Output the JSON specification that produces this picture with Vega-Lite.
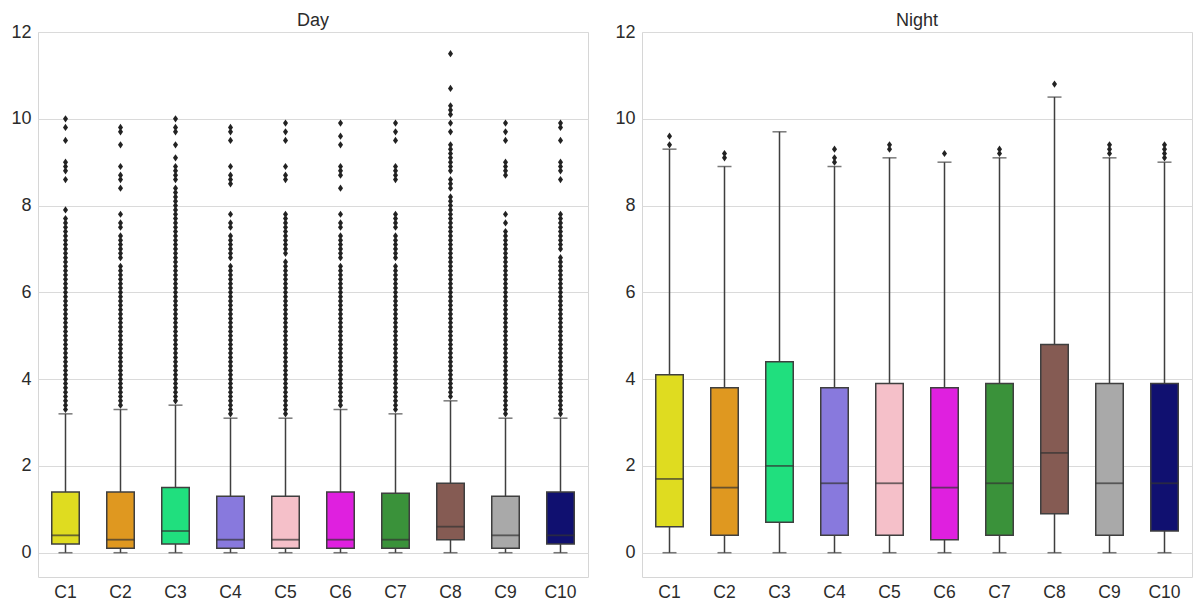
{
  "$schema": "https://vega.github.io/schema/vega-lite/v6.json",
  "background": "white",
  "padding": {"left": 10, "top": 11, "right": 2, "bottom": 0},
  "spacing": 25,
  "config": {
    "view": {"stroke": "#d6d6d6", "strokeWidth": 1},
    "font": "Liberation Sans",
    "axis": {"labelFont": "Liberation Sans", "labelFontSize": 18, "labelColor": "#2b2b2b", "ticks": false, "domain": false, "gridColor": "#dadada", "gridWidth": 1, "title": null},
    "title": {"font": "Liberation Sans", "fontSize": 18, "fontWeight": "normal", "color": "#2b2b2b", "offset": -7}
  },
  "datasets": {
    "dayBox": [
      {"c":"C1","lo":0,"q1":0.2,"med":0.4,"q3":1.4,"hi":3.2},
      {"c":"C2","lo":0,"q1":0.1,"med":0.3,"q3":1.4,"hi":3.3},
      {"c":"C3","lo":0,"q1":0.2,"med":0.5,"q3":1.5,"hi":3.4},
      {"c":"C4","lo":0,"q1":0.1,"med":0.3,"q3":1.3,"hi":3.1},
      {"c":"C5","lo":0,"q1":0.1,"med":0.3,"q3":1.3,"hi":3.1},
      {"c":"C6","lo":0,"q1":0.1,"med":0.3,"q3":1.4,"hi":3.3},
      {"c":"C7","lo":0,"q1":0.1,"med":0.3,"q3":1.37,"hi":3.2},
      {"c":"C8","lo":0,"q1":0.3,"med":0.6,"q3":1.6,"hi":3.5},
      {"c":"C9","lo":0,"q1":0.1,"med":0.4,"q3":1.3,"hi":3.1},
      {"c":"C10","lo":0,"q1":0.2,"med":0.4,"q3":1.4,"hi":3.1}
    ],
    "nightBox": [
      {"c":"C1","lo":0,"q1":0.6,"med":1.7,"q3":4.1,"hi":9.3},
      {"c":"C2","lo":0,"q1":0.4,"med":1.5,"q3":3.8,"hi":8.9},
      {"c":"C3","lo":0,"q1":0.7,"med":2.0,"q3":4.4,"hi":9.7},
      {"c":"C4","lo":0,"q1":0.4,"med":1.6,"q3":3.8,"hi":8.9},
      {"c":"C5","lo":0,"q1":0.4,"med":1.6,"q3":3.9,"hi":9.1},
      {"c":"C6","lo":0,"q1":0.3,"med":1.5,"q3":3.8,"hi":9.0},
      {"c":"C7","lo":0,"q1":0.4,"med":1.6,"q3":3.9,"hi":9.1},
      {"c":"C8","lo":0,"q1":0.9,"med":2.3,"q3":4.8,"hi":10.5},
      {"c":"C9","lo":0,"q1":0.4,"med":1.6,"q3":3.9,"hi":9.1},
      {"c":"C10","lo":0,"q1":0.5,"med":1.6,"q3":3.9,"hi":9.0}
    ],
    "nightOut": [
      {"c":"C1","v":9.6},{"c":"C1","v":9.4},
      {"c":"C2","v":9.2},{"c":"C2","v":9.1},
      {"c":"C4","v":9.3},{"c":"C4","v":9.1},{"c":"C4","v":9.0},
      {"c":"C5","v":9.4},{"c":"C5","v":9.3},
      {"c":"C6","v":9.2},
      {"c":"C7","v":9.3},{"c":"C7","v":9.2},
      {"c":"C8","v":10.8},
      {"c":"C9","v":9.4},{"c":"C9","v":9.3},{"c":"C9","v":9.2},
      {"c":"C10","v":9.4},{"c":"C10","v":9.3},{"c":"C10","v":9.2},{"c":"C10","v":9.1}
    ],
    "dayOut": [
      {"c":"C1","v":10},{"c":"C1","v":9.8},{"c":"C1","v":9.5},{"c":"C1","v":9},{"c":"C1","v":8.9},{"c":"C1","v":8.8},{"c":"C1","v":8.6},{"c":"C1","v":7.9},
      {"c":"C1","v":7.7},{"c":"C1","v":7.6},{"c":"C1","v":7.5},{"c":"C1","v":7.4},{"c":"C1","v":7.3},{"c":"C1","v":7.2},{"c":"C1","v":7.1},{"c":"C1","v":7.0},
      {"c":"C1","v":6.9},{"c":"C1","v":6.8},{"c":"C1","v":6.7},{"c":"C1","v":6.6},{"c":"C1","v":6.5},{"c":"C1","v":6.4},{"c":"C1","v":6.3},{"c":"C1","v":6.2},{"c":"C1","v":6.1},{"c":"C1","v":6.0},
      {"c":"C1","v":5.9},{"c":"C1","v":5.8},{"c":"C1","v":5.7},{"c":"C1","v":5.6},{"c":"C1","v":5.5},{"c":"C1","v":5.4},{"c":"C1","v":5.3},{"c":"C1","v":5.2},{"c":"C1","v":5.1},{"c":"C1","v":5.0},
      {"c":"C1","v":4.9},{"c":"C1","v":4.8},{"c":"C1","v":4.7},{"c":"C1","v":4.6},{"c":"C1","v":4.5},{"c":"C1","v":4.4},{"c":"C1","v":4.3},{"c":"C1","v":4.2},{"c":"C1","v":4.1},{"c":"C1","v":4.0},
      {"c":"C1","v":3.9},{"c":"C1","v":3.8},{"c":"C1","v":3.7},{"c":"C1","v":3.6},{"c":"C1","v":3.5},{"c":"C1","v":3.4},{"c":"C1","v":3.3},

      {"c":"C2","v":9.8},{"c":"C2","v":9.7},{"c":"C2","v":9.4},{"c":"C2","v":8.9},{"c":"C2","v":8.7},{"c":"C2","v":8.6},{"c":"C2","v":8.4},{"c":"C2","v":7.8},
      {"c":"C2","v":7.6},{"c":"C2","v":7.5},{"c":"C2","v":7.3},{"c":"C2","v":7.2},{"c":"C2","v":7.1},{"c":"C2","v":7.0},
      {"c":"C2","v":6.9},{"c":"C2","v":6.8},{"c":"C2","v":6.6},{"c":"C2","v":6.5},{"c":"C2","v":6.4},{"c":"C2","v":6.3},{"c":"C2","v":6.2},{"c":"C2","v":6.1},{"c":"C2","v":6.0},
      {"c":"C2","v":5.9},{"c":"C2","v":5.8},{"c":"C2","v":5.7},{"c":"C2","v":5.6},{"c":"C2","v":5.5},{"c":"C2","v":5.4},{"c":"C2","v":5.3},{"c":"C2","v":5.2},{"c":"C2","v":5.1},{"c":"C2","v":5.0},
      {"c":"C2","v":4.9},{"c":"C2","v":4.8},{"c":"C2","v":4.7},{"c":"C2","v":4.6},{"c":"C2","v":4.5},{"c":"C2","v":4.4},{"c":"C2","v":4.3},{"c":"C2","v":4.2},{"c":"C2","v":4.1},{"c":"C2","v":4.0},
      {"c":"C2","v":3.9},{"c":"C2","v":3.8},{"c":"C2","v":3.7},{"c":"C2","v":3.6},{"c":"C2","v":3.5},{"c":"C2","v":3.4},

      {"c":"C3","v":10},{"c":"C3","v":9.8},{"c":"C3","v":9.7},{"c":"C3","v":9.4},{"c":"C3","v":9.1},{"c":"C3","v":8.9},{"c":"C3","v":8.8},{"c":"C3","v":8.7},{"c":"C3","v":8.6},
      {"c":"C3","v":8.4},{"c":"C3","v":8.3},{"c":"C3","v":8.2},{"c":"C3","v":8.1},{"c":"C3","v":8.0},{"c":"C3","v":7.9},{"c":"C3","v":7.8},
      {"c":"C3","v":7.7},{"c":"C3","v":7.6},{"c":"C3","v":7.5},{"c":"C3","v":7.4},{"c":"C3","v":7.3},{"c":"C3","v":7.2},{"c":"C3","v":7.1},{"c":"C3","v":7.0},
      {"c":"C3","v":6.9},{"c":"C3","v":6.8},{"c":"C3","v":6.7},{"c":"C3","v":6.6},{"c":"C3","v":6.5},{"c":"C3","v":6.4},{"c":"C3","v":6.3},{"c":"C3","v":6.2},{"c":"C3","v":6.1},{"c":"C3","v":6.0},
      {"c":"C3","v":5.9},{"c":"C3","v":5.8},{"c":"C3","v":5.7},{"c":"C3","v":5.6},{"c":"C3","v":5.5},{"c":"C3","v":5.4},{"c":"C3","v":5.3},{"c":"C3","v":5.2},{"c":"C3","v":5.1},{"c":"C3","v":5.0},
      {"c":"C3","v":4.9},{"c":"C3","v":4.8},{"c":"C3","v":4.7},{"c":"C3","v":4.6},{"c":"C3","v":4.5},{"c":"C3","v":4.4},{"c":"C3","v":4.3},{"c":"C3","v":4.2},{"c":"C3","v":4.1},{"c":"C3","v":4.0},
      {"c":"C3","v":3.9},{"c":"C3","v":3.8},{"c":"C3","v":3.7},{"c":"C3","v":3.6},{"c":"C3","v":3.5},

      {"c":"C4","v":9.8},{"c":"C4","v":9.7},{"c":"C4","v":9.5},{"c":"C4","v":8.9},{"c":"C4","v":8.7},{"c":"C4","v":8.6},{"c":"C4","v":8.5},{"c":"C4","v":7.8},
      {"c":"C4","v":7.6},{"c":"C4","v":7.5},{"c":"C4","v":7.3},{"c":"C4","v":7.2},{"c":"C4","v":7.1},{"c":"C4","v":7.0},
      {"c":"C4","v":6.9},{"c":"C4","v":6.8},{"c":"C4","v":6.6},{"c":"C4","v":6.5},{"c":"C4","v":6.4},{"c":"C4","v":6.3},{"c":"C4","v":6.2},{"c":"C4","v":6.1},{"c":"C4","v":6.0},
      {"c":"C4","v":5.9},{"c":"C4","v":5.8},{"c":"C4","v":5.7},{"c":"C4","v":5.6},{"c":"C4","v":5.5},{"c":"C4","v":5.4},{"c":"C4","v":5.3},{"c":"C4","v":5.2},{"c":"C4","v":5.1},{"c":"C4","v":5.0},
      {"c":"C4","v":4.9},{"c":"C4","v":4.8},{"c":"C4","v":4.7},{"c":"C4","v":4.6},{"c":"C4","v":4.5},{"c":"C4","v":4.4},{"c":"C4","v":4.3},{"c":"C4","v":4.2},{"c":"C4","v":4.1},{"c":"C4","v":4.0},
      {"c":"C4","v":3.9},{"c":"C4","v":3.8},{"c":"C4","v":3.7},{"c":"C4","v":3.6},{"c":"C4","v":3.5},{"c":"C4","v":3.4},{"c":"C4","v":3.3},{"c":"C4","v":3.2},

      {"c":"C5","v":9.9},{"c":"C5","v":9.7},{"c":"C5","v":9.5},{"c":"C5","v":8.9},{"c":"C5","v":8.7},{"c":"C5","v":8.6},
      {"c":"C5","v":7.8},{"c":"C5","v":7.7},{"c":"C5","v":7.6},{"c":"C5","v":7.5},{"c":"C5","v":7.4},{"c":"C5","v":7.3},{"c":"C5","v":7.2},{"c":"C5","v":7.1},{"c":"C5","v":7.0},
      {"c":"C5","v":6.9},{"c":"C5","v":6.7},{"c":"C5","v":6.6},{"c":"C5","v":6.5},{"c":"C5","v":6.4},{"c":"C5","v":6.3},{"c":"C5","v":6.2},{"c":"C5","v":6.1},{"c":"C5","v":6.0},
      {"c":"C5","v":5.9},{"c":"C5","v":5.8},{"c":"C5","v":5.7},{"c":"C5","v":5.6},{"c":"C5","v":5.5},{"c":"C5","v":5.4},{"c":"C5","v":5.3},{"c":"C5","v":5.2},{"c":"C5","v":5.1},{"c":"C5","v":5.0},
      {"c":"C5","v":4.9},{"c":"C5","v":4.8},{"c":"C5","v":4.7},{"c":"C5","v":4.6},{"c":"C5","v":4.5},{"c":"C5","v":4.4},{"c":"C5","v":4.3},{"c":"C5","v":4.2},{"c":"C5","v":4.1},{"c":"C5","v":4.0},
      {"c":"C5","v":3.9},{"c":"C5","v":3.8},{"c":"C5","v":3.7},{"c":"C5","v":3.6},{"c":"C5","v":3.5},{"c":"C5","v":3.4},{"c":"C5","v":3.3},{"c":"C5","v":3.2},

      {"c":"C6","v":9.9},{"c":"C6","v":9.6},{"c":"C6","v":9.4},{"c":"C6","v":8.9},{"c":"C6","v":8.8},{"c":"C6","v":8.7},{"c":"C6","v":8.4},{"c":"C6","v":7.8},
      {"c":"C6","v":7.6},{"c":"C6","v":7.5},{"c":"C6","v":7.3},{"c":"C6","v":7.2},{"c":"C6","v":7.1},{"c":"C6","v":7.0},
      {"c":"C6","v":6.9},{"c":"C6","v":6.8},{"c":"C6","v":6.6},{"c":"C6","v":6.5},{"c":"C6","v":6.4},{"c":"C6","v":6.3},{"c":"C6","v":6.2},{"c":"C6","v":6.1},{"c":"C6","v":6.0},
      {"c":"C6","v":5.9},{"c":"C6","v":5.8},{"c":"C6","v":5.7},{"c":"C6","v":5.6},{"c":"C6","v":5.5},{"c":"C6","v":5.4},{"c":"C6","v":5.3},{"c":"C6","v":5.2},{"c":"C6","v":5.1},{"c":"C6","v":5.0},
      {"c":"C6","v":4.9},{"c":"C6","v":4.8},{"c":"C6","v":4.7},{"c":"C6","v":4.6},{"c":"C6","v":4.5},{"c":"C6","v":4.4},{"c":"C6","v":4.3},{"c":"C6","v":4.2},{"c":"C6","v":4.1},{"c":"C6","v":4.0},
      {"c":"C6","v":3.9},{"c":"C6","v":3.8},{"c":"C6","v":3.7},{"c":"C6","v":3.6},{"c":"C6","v":3.5},{"c":"C6","v":3.4},

      {"c":"C7","v":9.9},{"c":"C7","v":9.7},{"c":"C7","v":9.5},{"c":"C7","v":8.9},{"c":"C7","v":8.8},{"c":"C7","v":8.7},{"c":"C7","v":8.6},
      {"c":"C7","v":7.8},{"c":"C7","v":7.7},{"c":"C7","v":7.6},{"c":"C7","v":7.5},{"c":"C7","v":7.3},{"c":"C7","v":7.2},{"c":"C7","v":7.1},{"c":"C7","v":7.0},
      {"c":"C7","v":6.9},{"c":"C7","v":6.8},{"c":"C7","v":6.6},{"c":"C7","v":6.5},{"c":"C7","v":6.4},{"c":"C7","v":6.3},{"c":"C7","v":6.2},{"c":"C7","v":6.1},{"c":"C7","v":6.0},
      {"c":"C7","v":5.9},{"c":"C7","v":5.8},{"c":"C7","v":5.7},{"c":"C7","v":5.6},{"c":"C7","v":5.5},{"c":"C7","v":5.4},{"c":"C7","v":5.3},{"c":"C7","v":5.2},{"c":"C7","v":5.1},{"c":"C7","v":5.0},
      {"c":"C7","v":4.9},{"c":"C7","v":4.8},{"c":"C7","v":4.7},{"c":"C7","v":4.6},{"c":"C7","v":4.5},{"c":"C7","v":4.4},{"c":"C7","v":4.3},{"c":"C7","v":4.2},{"c":"C7","v":4.1},{"c":"C7","v":4.0},
      {"c":"C7","v":3.9},{"c":"C7","v":3.8},{"c":"C7","v":3.7},{"c":"C7","v":3.6},{"c":"C7","v":3.5},{"c":"C7","v":3.4},{"c":"C7","v":3.3},

      {"c":"C8","v":11.5},{"c":"C8","v":10.7},{"c":"C8","v":10.3},{"c":"C8","v":10.2},{"c":"C8","v":10.1},{"c":"C8","v":9.9},{"c":"C8","v":9.7},
      {"c":"C8","v":9.4},{"c":"C8","v":9.3},{"c":"C8","v":9.2},{"c":"C8","v":9.1},{"c":"C8","v":9.0},{"c":"C8","v":8.9},{"c":"C8","v":8.8},
      {"c":"C8","v":8.6},{"c":"C8","v":8.5},{"c":"C8","v":8.4},{"c":"C8","v":8.2},{"c":"C8","v":8.1},{"c":"C8","v":8.0},
      {"c":"C8","v":7.9},{"c":"C8","v":7.8},{"c":"C8","v":7.7},{"c":"C8","v":7.6},{"c":"C8","v":7.5},{"c":"C8","v":7.4},{"c":"C8","v":7.3},{"c":"C8","v":7.2},{"c":"C8","v":7.1},{"c":"C8","v":7.0},
      {"c":"C8","v":6.9},{"c":"C8","v":6.8},{"c":"C8","v":6.7},{"c":"C8","v":6.6},{"c":"C8","v":6.5},{"c":"C8","v":6.4},{"c":"C8","v":6.3},{"c":"C8","v":6.2},{"c":"C8","v":6.1},{"c":"C8","v":6.0},
      {"c":"C8","v":5.9},{"c":"C8","v":5.8},{"c":"C8","v":5.7},{"c":"C8","v":5.6},{"c":"C8","v":5.5},{"c":"C8","v":5.4},{"c":"C8","v":5.3},{"c":"C8","v":5.2},{"c":"C8","v":5.1},{"c":"C8","v":5.0},
      {"c":"C8","v":4.9},{"c":"C8","v":4.8},{"c":"C8","v":4.7},{"c":"C8","v":4.6},{"c":"C8","v":4.5},{"c":"C8","v":4.4},{"c":"C8","v":4.3},{"c":"C8","v":4.2},{"c":"C8","v":4.1},{"c":"C8","v":4.0},
      {"c":"C8","v":3.9},{"c":"C8","v":3.8},{"c":"C8","v":3.7},{"c":"C8","v":3.6},

      {"c":"C9","v":9.9},{"c":"C9","v":9.7},{"c":"C9","v":9.5},{"c":"C9","v":9.0},{"c":"C9","v":8.9},{"c":"C9","v":8.8},{"c":"C9","v":8.7},
      {"c":"C9","v":7.8},{"c":"C9","v":7.6},{"c":"C9","v":7.4},{"c":"C9","v":7.3},{"c":"C9","v":7.2},{"c":"C9","v":7.1},{"c":"C9","v":7.0},
      {"c":"C9","v":6.9},{"c":"C9","v":6.8},{"c":"C9","v":6.7},{"c":"C9","v":6.6},{"c":"C9","v":6.5},{"c":"C9","v":6.4},{"c":"C9","v":6.3},{"c":"C9","v":6.2},{"c":"C9","v":6.1},{"c":"C9","v":6.0},
      {"c":"C9","v":5.9},{"c":"C9","v":5.8},{"c":"C9","v":5.7},{"c":"C9","v":5.6},{"c":"C9","v":5.5},{"c":"C9","v":5.4},{"c":"C9","v":5.3},{"c":"C9","v":5.2},{"c":"C9","v":5.1},{"c":"C9","v":5.0},
      {"c":"C9","v":4.9},{"c":"C9","v":4.8},{"c":"C9","v":4.7},{"c":"C9","v":4.6},{"c":"C9","v":4.5},{"c":"C9","v":4.4},{"c":"C9","v":4.3},{"c":"C9","v":4.2},{"c":"C9","v":4.1},{"c":"C9","v":4.0},
      {"c":"C9","v":3.9},{"c":"C9","v":3.8},{"c":"C9","v":3.7},{"c":"C9","v":3.6},{"c":"C9","v":3.5},{"c":"C9","v":3.4},{"c":"C9","v":3.3},{"c":"C9","v":3.2},

      {"c":"C10","v":9.9},{"c":"C10","v":9.8},{"c":"C10","v":9.5},{"c":"C10","v":9.0},{"c":"C10","v":8.9},{"c":"C10","v":8.8},{"c":"C10","v":8.6},
      {"c":"C10","v":7.8},{"c":"C10","v":7.7},{"c":"C10","v":7.6},{"c":"C10","v":7.5},{"c":"C10","v":7.4},{"c":"C10","v":7.3},{"c":"C10","v":7.2},{"c":"C10","v":7.1},{"c":"C10","v":7.0},
      {"c":"C10","v":6.8},{"c":"C10","v":6.7},{"c":"C10","v":6.6},{"c":"C10","v":6.5},{"c":"C10","v":6.4},{"c":"C10","v":6.3},{"c":"C10","v":6.2},{"c":"C10","v":6.1},{"c":"C10","v":6.0},
      {"c":"C10","v":5.9},{"c":"C10","v":5.8},{"c":"C10","v":5.7},{"c":"C10","v":5.6},{"c":"C10","v":5.5},{"c":"C10","v":5.4},{"c":"C10","v":5.3},{"c":"C10","v":5.2},{"c":"C10","v":5.1},{"c":"C10","v":5.0},
      {"c":"C10","v":4.9},{"c":"C10","v":4.8},{"c":"C10","v":4.7},{"c":"C10","v":4.6},{"c":"C10","v":4.5},{"c":"C10","v":4.4},{"c":"C10","v":4.3},{"c":"C10","v":4.2},{"c":"C10","v":4.1},{"c":"C10","v":4.0},
      {"c":"C10","v":3.9},{"c":"C10","v":3.8},{"c":"C10","v":3.7},{"c":"C10","v":3.6},{"c":"C10","v":3.5},{"c":"C10","v":3.4},{"c":"C10","v":3.3},{"c":"C10","v":3.2}
    ]
  },
  "hconcat": [
    {
      "title": "Day",
      "width": 550,
      "height": 545,
      "encoding": {
        "x": {"field": "c", "type": "nominal", "sort": ["C1","C2","C3","C4","C5","C6","C7","C8","C9","C10"], "scale": {"type": "band", "paddingInner": 0, "paddingOuter": 0}, "axis": {"labelAngle": 0, "labelPadding": 6, "labelFontSize": 17.5, "grid": false}}
      },
      "layer": [
        {"data": {"name": "dayBox"}, "mark": {"type": "rule", "color": "#3f3f3f", "strokeWidth": 1.5},
         "encoding": {"y": {"field": "lo", "type": "quantitative", "scale": {"domain": [-0.56, 12], "nice": false, "zero": false}, "axis": {"values": [0,2,4,6,8,10,12], "labelPadding": 7, "grid": true}}, "y2": {"field": "hi"}}},
        {"data": {"name": "dayBox"}, "mark": {"type": "tick", "color": "#3f3f3f", "size": 14, "thickness": 1.5, "orient": "horizontal"},
         "encoding": {"y": {"field": "lo", "type": "quantitative"}}},
        {"data": {"name": "dayBox"}, "mark": {"type": "tick", "color": "#3f3f3f", "size": 14, "thickness": 1.5, "orient": "horizontal"},
         "encoding": {"y": {"field": "hi", "type": "quantitative"}}},
        {"data": {"name": "dayBox"}, "mark": {"type": "bar", "width": {"band": 0.5}, "stroke": "#3f3f3f", "strokeWidth": 1.5, "opacity": 1},
         "encoding": {"y": {"field": "q1", "type": "quantitative"}, "y2": {"field": "q3"},
           "fill": {"field": "c", "type": "nominal", "legend": null, "scale": {"domain": ["C1","C2","C3","C4","C5","C6","C7","C8","C9","C10"], "range": ["#dfdc20","#df9820","#20df7e","#8879dd","#f5c0c9","#df20df","#3a923a","#855b53","#a9a9a9","#101070"]}}}},
        {"data": {"name": "dayBox"}, "mark": {"type": "tick", "color": "#333333", "size": 28, "thickness": 1.8, "orient": "horizontal"},
         "encoding": {"y": {"field": "med", "type": "quantitative"}}},
        {"data": {"name": "dayOut"}, "mark": {"type": "point", "shape": "M0,-1L0.7,0L0,1L-0.7,0Z", "size": 52, "filled": true, "color": "#222222", "opacity": 1},
         "encoding": {"y": {"field": "v", "type": "quantitative"}}}
      ]
    },
    {
      "title": "Night",
      "width": 550,
      "height": 545,
      "encoding": {
        "x": {"field": "c", "type": "nominal", "sort": ["C1","C2","C3","C4","C5","C6","C7","C8","C9","C10"], "scale": {"type": "band", "paddingInner": 0, "paddingOuter": 0}, "axis": {"labelAngle": 0, "labelPadding": 6, "labelFontSize": 17.5, "grid": false}}
      },
      "layer": [
        {"data": {"name": "nightBox"}, "mark": {"type": "rule", "color": "#3f3f3f", "strokeWidth": 1.5},
         "encoding": {"y": {"field": "lo", "type": "quantitative", "scale": {"domain": [-0.56, 12], "nice": false, "zero": false}, "axis": {"values": [0,2,4,6,8,10,12], "labelPadding": 7, "grid": true}}, "y2": {"field": "hi"}}},
        {"data": {"name": "nightBox"}, "mark": {"type": "tick", "color": "#3f3f3f", "size": 14, "thickness": 1.5, "orient": "horizontal"},
         "encoding": {"y": {"field": "lo", "type": "quantitative"}}},
        {"data": {"name": "nightBox"}, "mark": {"type": "tick", "color": "#3f3f3f", "size": 14, "thickness": 1.5, "orient": "horizontal"},
         "encoding": {"y": {"field": "hi", "type": "quantitative"}}},
        {"data": {"name": "nightBox"}, "mark": {"type": "bar", "width": {"band": 0.5}, "stroke": "#3f3f3f", "strokeWidth": 1.5, "opacity": 1},
         "encoding": {"y": {"field": "q1", "type": "quantitative"}, "y2": {"field": "q3"},
           "fill": {"field": "c", "type": "nominal", "legend": null, "scale": {"domain": ["C1","C2","C3","C4","C5","C6","C7","C8","C9","C10"], "range": ["#dfdc20","#df9820","#20df7e","#8879dd","#f5c0c9","#df20df","#3a923a","#855b53","#a9a9a9","#101070"]}}}},
        {"data": {"name": "nightBox"}, "mark": {"type": "tick", "color": "#333333", "size": 28, "thickness": 1.8, "orient": "horizontal"},
         "encoding": {"y": {"field": "med", "type": "quantitative"}}},
        {"data": {"name": "nightOut"}, "mark": {"type": "point", "shape": "M0,-1L0.7,0L0,1L-0.7,0Z", "size": 52, "filled": true, "color": "#222222", "opacity": 1},
         "encoding": {"y": {"field": "v", "type": "quantitative"}}}
      ]
    }
  ]
}
